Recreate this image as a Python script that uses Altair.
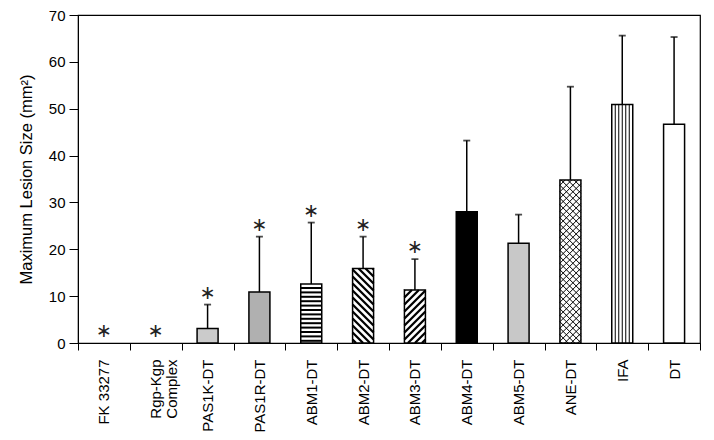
import json
import altair as alt
import pandas as pd

# ---- data ----
categories = ["FK 33277", "Rgp-Kgp\nComplex", "PAS1K-DT", "PAS1R-DT", "ABM1-DT", "ABM2-DT",
              "ABM3-DT", "ABM4-DT", "ABM5-DT", "ANE-DT", "IFA", "DT"]
means = [0, 0, 3.1, 10.9, 12.6, 15.9, 11.3, 28.0, 21.3, 34.8, 50.9, 46.7]
err_tops = [0, 0, 8.2, 22.7, 25.7, 22.7, 17.9, 43.2, 27.4, 54.7, 65.6, 65.3]
significant = [True, True, True, True, True, True, True, False, False, False, False, False]
patterns = ["none", "none", "fine", "stipple", "hstripe", "back", "fwd", "solid", "gray",
            "cross", "vstripe", "open"]
fills = {"none": "white", "fine": "#cbcbcb", "stipple": "#b0b0b0", "hstripe": "white",
         "back": "white", "fwd": "white", "solid": "black", "gray": "#c8c8c8",
         "cross": "white", "vstripe": "white", "open": "white"}

# ---- layout ----
W, H = 622, 328
XMIN, XMAX = -0.5, len(categories) - 0.5
YMAX = 70
PX_X = W / (XMAX - XMIN)
PX_Y = H / YMAX
BAR_PX = 21.0
HALF = BAR_PX / 2 / PX_X
FONT = "Liberation Sans"

rows = []
for i, c in enumerate(categories):
    rows.append(dict(idx=i, cat=c, mean=means[i], err=err_tops[i], sig=significant[i],
                     fill=fills[patterns[i]], x0=i - HALF, x1=i + HALF))
df = pd.DataFrame(rows)
bars_df = df[df["mean"] > 0]
sig_df = df[df["sig"]]

# hatch segments inside the bars (decoration derived from the bar values)
segs = []
for i, (m, p) in enumerate(zip(means, patterns)):
    h = m * PX_Y
    left = i - HALF
    w = BAR_PX

    def add(u1, v1, u2, v2, sw):
        segs.append(dict(x=left + u1 / PX_X, x2=left + u2 / PX_X,
                         y=v1 / PX_Y, y2=v2 / PX_Y, sw=sw))

    if p == "hstripe":
        v = 2.2
        while v < h - 1:
            add(0, v, w, v, 2.0)
            v += 4.4
    if p == "vstripe":
        for k in range(1, 6):
            add(3.5 * k, 0, 3.5 * k, h, 1.0)
    if p in ("fwd", "cross", "back"):
        step = 7.0 if p != "cross" else 6.5
        sw = 2.3 if p != "cross" else 1.0
        dirs = ["fwd"] if p == "fwd" else (["back"] if p == "back" else ["fwd", "back"])
        for d in dirs:
            c = -w + step / 2
            while c < h + w:
                if d == "fwd":  # v = u + c
                    lo, hi = max(0, -c), min(w, h - c)
                    if hi > lo:
                        add(lo, lo + c, hi, hi + c, sw)
                else:  # v = -u + c
                    lo, hi = max(0, c - h), min(w, c)
                    if hi > lo:
                        add(lo, c - lo, hi, c - hi, sw)
                c += step
seg_df = pd.DataFrame(segs)

label_expr = ("split(" + json.dumps(categories) + "[round(datum.value + 0.5)] || '', '\\n')")

x_axis = alt.Axis(values=[v - 0.5 for v in range(len(categories) + 1)], labelExpr=label_expr,
                  labelAngle=-90, labelOffset=PX_X / 2, labelPadding=9, tickSize=7,
                  labelFontSize=15, labelFont=FONT, labelColor="black", domainColor="black",
                  tickColor="black", grid=False, title=None, labelOverlap=False,
                  labelFlush=False, labelLineHeight=16, labelBound=False)
y_axis = alt.Axis(values=list(range(0, 71, 10)), tickSize=9, labelPadding=4, labelFontSize=15,
                  labelFont=FONT, labelColor="black", domainColor="black", tickColor="black",
                  grid=False, title="Maximum Lesion Size (mm²)", titleFont=FONT,
                  titleFontSize=16.5, titleFontWeight="normal", titleColor="black",
                  titlePadding=14)
x_scale = alt.Scale(domain=[XMIN, XMAX], nice=False, zero=False)
y_scale = alt.Scale(domain=[0, YMAX], nice=False)


def X(f):
    return alt.X(f, type="quantitative", scale=x_scale, axis=x_axis)


def Y(f):
    return alt.Y(f, type="quantitative", scale=y_scale, axis=y_axis)


fill_layer = alt.Chart(bars_df).mark_rect(strokeWidth=0).encode(
    x=X("x0"), x2="x1", y=Y("mean"), y2=alt.datum(0),
    fill=alt.Fill("fill:N", scale=None))

hatch = alt.Chart(seg_df).mark_rule(color="black", strokeCap="butt").encode(
    x=X("x"), x2="x2", y=Y("y"), y2="y2",
    strokeWidth=alt.StrokeWidth("sw:Q", scale=None))

outline = alt.Chart(bars_df).mark_rect(fill=None, stroke="black", strokeWidth=1.5).encode(
    x=X("x0"), x2="x1", y=Y("mean"), y2=alt.datum(0))

err_line = alt.Chart(bars_df).mark_rule(color="black", strokeWidth=1.5).encode(
    x=X("idx"), y=Y("mean"), y2="err")

err_cap = alt.Chart(bars_df).mark_tick(color="black", orient="horizontal", size=7,
                                       thickness=1.8).encode(x=X("idx"), y=Y("err"))

stars = alt.Chart(sig_df).mark_text(text="∗", font="DejaVu Sans", fontSize=19,
                                    baseline="middle", dy=-12, color="#222222").encode(
    x=X("idx"), y=Y("err"))

chart = alt.layer(fill_layer, hatch, outline, err_line, err_cap, stars).properties(
    width=W, height=H,
    autosize=alt.AutoSizeParams(type="none"),
    padding={"left": 70, "top": 7, "right": 6, "bottom": 94},
).configure_view(stroke="black", strokeWidth=1.2)

chart.save("out.html", embed_options={"renderer": "svg", "actions": False})
